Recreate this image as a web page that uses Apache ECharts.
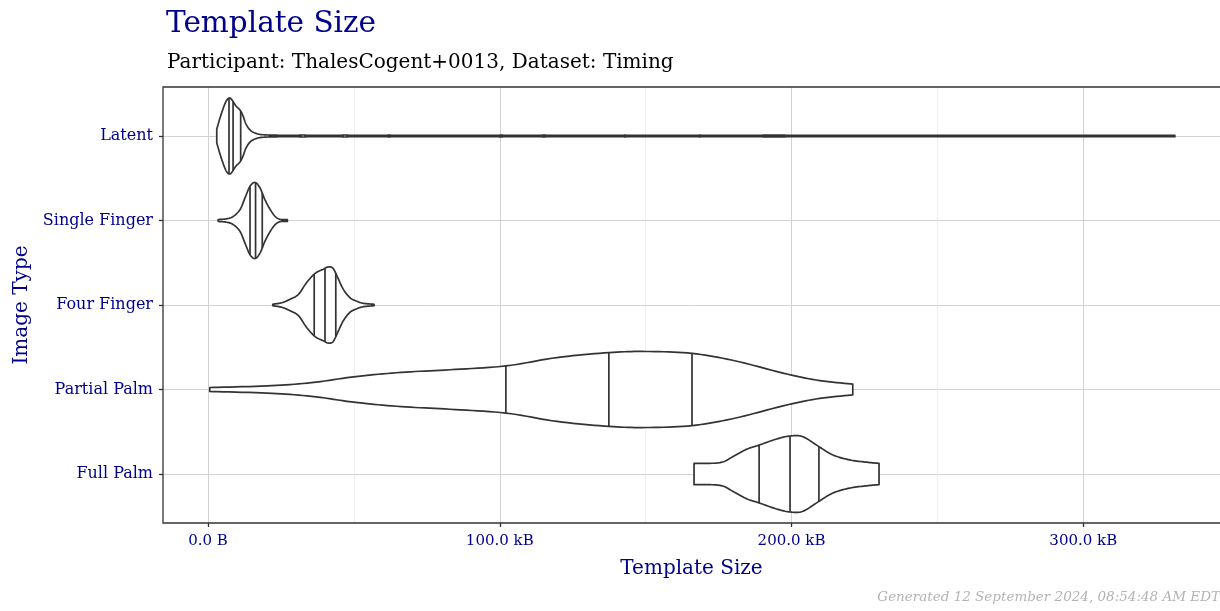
<!DOCTYPE html>
<html>
<head>
<meta charset="utf-8">
<title>Template Size</title>
<script src="https://cdn.jsdelivr.net/npm/echarts@6/dist/echarts.min.js"></script>
<style>
html, body { margin: 0; padding: 0; background: #fff; }
#chart { width: 1220px; height: 611px; }
</style>
</head>
<body>
<div id="chart"></div>
<script>
// image types, top to bottom
var categories = ['Latent', 'Single Finger', 'Four Finger', 'Partial Palm', 'Full Palm'];
var xTickValues = [0, 100, 200, 300];            // kB
var xTickLabels = ['0.0 B', '100.0 kB', '200.0 kB', '300.0 kB'];

// violin outlines: template size in kB, relative half width (1 = widest)
var latentSize  = [3.0, 4.1, 5.5, 6.5, 7.4, 8.2, 9.6, 11.0, 12.0, 13.0, 14.4, 16.1, 18.5, 24, 30, 32.6, 35, 44.5, 47, 49.5, 60, 62.4, 65, 97.5, 100.1, 102.5, 113, 115.5, 118, 140.5, 142.9, 145.5, 166, 168.6, 171, 195, 197.8, 200.5, 331.4];
var latentWidth = [0.18, 0.47, 0.79, 0.95, 1.0, 0.95, 0.79, 0.68, 0.53, 0.32, 0.16, 0.08, 0.035, 0.02, 0.018, 0.026, 0.018, 0.018, 0.026, 0.018, 0.018, 0.026, 0.018, 0.018, 0.024, 0.018, 0.018, 0.024, 0.018, 0.018, 0.026, 0.018, 0.018, 0.024, 0.018, 0.018, 0.026, 0.018, 0.018];
var latentQuart = [7.2, 8.6, 11.2];

var singleSize  = [3.5, 6.4, 8.7, 11.0, 12.7, 14.4, 16.1, 17.8, 19.5, 21.3, 23.0, 24.7, 27.2];
var singleWidth = [0.025, 0.045, 0.11, 0.29, 0.6, 0.9, 1.0, 0.86, 0.55, 0.29, 0.11, 0.03, 0.025];
var singleQuart = [14.4, 16.3, 18.6];

var fourSize  = [22.2, 25.3, 28.1, 31.0, 33.8, 36.7, 39.5, 41.2, 42.9, 44.7, 46.4, 48.7, 51.0, 53.2, 56.9];
var fourWidth = [0.02, 0.06, 0.15, 0.28, 0.59, 0.83, 0.94, 1.0, 0.96, 0.68, 0.41, 0.19, 0.1, 0.045, 0.02];
var fourQuart = [36.4, 40.1, 43.8];

var partialSize  = [0.6, 20.2, 35.5, 50.7, 66.2, 82.9, 102.1, 119.6, 137.4, 150.1, 165.9, 180.9, 196.1, 208.4, 221.0];
var partialWidth = [0.053, 0.095, 0.18, 0.34, 0.45, 0.52, 0.62, 0.84, 0.97, 1.0, 0.95, 0.75, 0.45, 0.25, 0.14];
var partialQuart = [102.1, 137.4, 165.9];

var fullSize  = [166.6, 175.5, 180.0, 184.6, 188.9, 194.9, 199.5, 203.9, 209.4, 214.2, 220.0, 225.8, 230.0];
var fullWidth = [0.28, 0.3, 0.46, 0.65, 0.76, 0.92, 1.0, 0.98, 0.72, 0.5, 0.37, 0.31, 0.28];
var fullQuart = [188.9, 199.5, 209.4];

var violins = [
    { size: latentSize,  width: latentWidth,  quart: latentQuart },
    { size: singleSize,  width: singleWidth,  quart: singleQuart },
    { size: fourSize,    width: fourWidth,    quart: fourQuart },
    { size: partialSize, width: partialWidth, quart: partialQuart },
    { size: fullSize,    width: fullWidth,    quart: fullQuart }
];

var SERIF = "'DejaVu Serif', 'Liberation Serif', serif";
var NAVY = '#00008B';
var INK = '#333333';

// panel in pixels (left, right, top, bottom) and x scale
var panelL = 163, panelR = 1220, panelT = 87, panelB = 523;
var x0px = 208, pxPerKB = (791.5 - 208) / 200;
var rowTop = 136, rowBottom = 474;

// catmull-rom through [px, half] pairs
function smoothPts(pts) {
    var out = [];
    for (var i = 0; i < pts.length - 1; i++) {
        var p0 = pts[Math.max(i - 1, 0)], p1 = pts[i], p2 = pts[i + 1], p3 = pts[Math.min(i + 2, pts.length - 1)];
        for (var s = 0; s < 10; s++) {
            var t = s / 10, t2 = t * t, t3 = t2 * t;
            var q = [0, 0];
            for (var d = 0; d < 2; d++) {
                q[d] = 0.5 * ((2 * p1[d]) + (-p0[d] + p2[d]) * t +
                    (2 * p0[d] - 5 * p1[d] + 4 * p2[d] - p3[d]) * t2 +
                    (-p0[d] + 3 * p1[d] - 3 * p2[d] + p3[d]) * t3);
            }
            q[1] = Math.max(q[1], 0.5);
            out.push(q);
        }
    }
    var last = pts[pts.length - 1];
    out.push([last[0], Math.max(last[1], 0.5)]);
    return out;
}

function halfAt(sm, x) {
    for (var i = 0; i < sm.length - 1; i++) {
        if (sm[i][0] <= x && sm[i + 1][0] >= x) {
            var f = (x - sm[i][0]) / ((sm[i + 1][0] - sm[i][0]) || 1);
            return sm[i][1] + f * (sm[i + 1][1] - sm[i][1]);
        }
    }
    return 0;
}

function renderViolin(params, api) {
    var i = api.value(0);
    var v = violins[i];
    var c0 = api.coord([0, i + 1]);
    var c1 = api.coord([0, i + 2]);
    var halfMax = 0.45 * Math.abs(c1[1] - c0[1]);
    var yc = c0[1];
    var pts = [];
    for (var k = 0; k < v.size.length; k++) {
        var p = api.coord([v.size[k] * 1000, i + 1]);
        pts.push([p[0], v.width[k] * halfMax]);
    }
    var sm = smoothPts(pts);
    var poly = [];
    for (var a = 0; a < sm.length; a++) poly.push([sm[a][0], yc - sm[a][1]]);
    for (var b = sm.length - 1; b >= 0; b--) poly.push([sm[b][0], yc + sm[b][1]]);
    var children = [{
        type: 'polygon',
        shape: { points: poly },
        style: { fill: '#fff', stroke: INK, lineWidth: 1.7, lineJoin: 'round' }
    }];
    v.quart.forEach(function (q) {
        var x = api.coord([q * 1000, i + 1])[0];
        var h = halfAt(sm, x);
        children.push({
            type: 'line',
            shape: { x1: x, y1: yc - h, x2: x, y2: yc + h },
            style: { stroke: INK, lineWidth: 1.7 }
        });
    });
    return { type: 'group', children: children };
}

var chart = echarts.init(document.getElementById('chart'));
var option = {
    animation: false,
    backgroundColor: '#fff',
    title: [
        { text: 'Template Size', left: 161, top: 4,
          textStyle: { fontFamily: SERIF, fontSize: 29.5, fontWeight: 'normal', color: NAVY } },
        { text: 'Participant: ThalesCogent+0013, Dataset: Timing', left: 162, top: 48,
          textStyle: { fontFamily: SERIF, fontSize: 20, fontWeight: 'normal', color: '#000' } },
        { text: 'Generated 12 September 2024, 08:54:48 AM EDT', right: -5, bottom: 2,
          textStyle: { fontFamily: SERIF, fontSize: 13.5, fontWeight: 'normal', fontStyle: 'italic', color: '#b3b3b3' } }
    ],
    grid: [
        { left: x0px, right: 1220 - (x0px + 300 * pxPerKB), top: panelT, bottom: 611 - panelB },
        { left: panelL, right: 1220 - panelR, top: rowTop, bottom: 611 - rowBottom }
    ],
    xAxis: [
        {
            gridIndex: 0, type: 'value', min: 0, max: 300000, interval: 100000,
            axisLine: { show: false, onZero: false },
            axisTick: { show: true, length: 4, lineStyle: { color: INK, width: 1.3 } },
            axisLabel: {
                margin: 11, fontFamily: SERIF, fontSize: 15, color: NAVY,
                formatter: function (val) {
                    var idx = xTickValues.indexOf(Math.round(val / 1000));
                    return idx >= 0 ? xTickLabels[idx] : '';
                }
            },
            splitLine: { show: true, lineStyle: { color: '#d2d2d2', width: 1 } },
            minorTick: { show: false, splitNumber: 2 },
            minorSplitLine: { show: true, lineStyle: { color: '#ebebeb', width: 0.8 } }
        },
        {
            gridIndex: 1, type: 'value',
            min: (panelL - x0px) / pxPerKB * 1000,
            max: (panelR - x0px) / pxPerKB * 1000,
            show: false
        }
    ],
    yAxis: [
        { gridIndex: 0, type: 'value', show: false },
        {
            gridIndex: 1, type: 'value', min: 1, max: 5, interval: 1, inverse: true,
            axisLine: { show: false, onZero: false },
            axisTick: { show: true, length: 4, lineStyle: { color: INK, width: 1.3 } },
            axisLabel: {
                margin: 10, fontFamily: SERIF, fontSize: 16, color: NAVY,
                formatter: function (val) { return categories[val - 1] || ''; }
            },
            splitLine: { show: true, lineStyle: { color: '#d2d2d2', width: 1 } }
        }
    ],
    series: [{
        type: 'custom',
        xAxisIndex: 1,
        yAxisIndex: 1,
        clip: false,
        renderItem: renderViolin,
        data: categories.map(function (c, i) { return [i]; }),
        z: 5
    }],
    graphic: [
        {
            type: 'rect', z: 100, silent: true,
            shape: { x: panelL, y: panelT, width: panelR - panelL + 5, height: panelB - panelT },
            style: { fill: 'none', stroke: INK, lineWidth: 1.3 }
        },
        {
            type: 'text', z: 100,
            x: (panelL + panelR) / 2, y: 569,
            style: { text: 'Template Size', fontFamily: SERIF, fontSize: 20, fill: NAVY,
                     align: 'center', verticalAlign: 'middle' }
        },
        {
            type: 'text', z: 100,
            x: 22, y: (panelT + panelB) / 2, rotation: Math.PI / 2,
            style: { text: 'Image Type', fontFamily: SERIF, fontSize: 20, fill: NAVY,
                     align: 'center', verticalAlign: 'middle' }
        }
    ]
};
chart.setOption(option);

window.addEventListener('resize', chart.resize);
</script>
</body>
</html>
